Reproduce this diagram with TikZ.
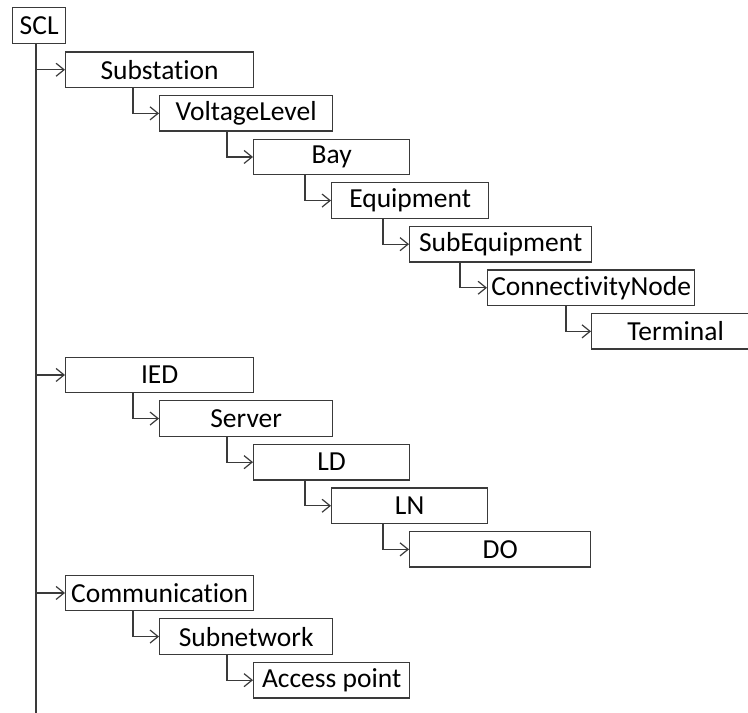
\documentclass[tikz,border=0pt]{standalone}
\usepackage{fontspec}
\setmainfont{Carlito}[Ligatures={NoCommon}]
\usetikzlibrary{arrows.meta}
\definecolor{edge}{HTML}{3A3A3A}
\tikzset{
  box/.style={draw=edge, line width=1.3pt, inner sep=0pt, minimum height=35.5pt,
    font=\fontsize{27.5}{30}\selectfont, text=black, anchor=west},
  link/.style={draw=edge, line width=1.3pt,
    -{Straight Barb[length=8pt,width=13pt,line width=1.2pt]}},
  trunk/.style={draw=edge, line width=1.3pt}
}
\begin{document}
\begin{tikzpicture}[x=1pt,y=-1pt]
\clip (0,0) rectangle (748,713);
\fill[white] (0,0) rectangle (748,713);

% root
\node[box, minimum width=53pt] (scl) at (12,25.5) {SCL};

% rows: top = 52 + 43.6 i, centre = top + 17.75
\node[box, minimum width=188pt] (sub)  at (65,69.75)   {Substation};
\node[box, minimum width=173pt] (vl)   at (159,113.35) {VoltageLevel};
\node[box, minimum width=156pt] (bay)  at (253,156.95) {Bay};
\node[box, minimum width=157pt] (eq)   at (331,200.55) {Equipment};
\node[box, minimum width=182pt] (seq)  at (409,244.15) {SubEquipment};
\node[box, minimum width=207pt] (cn)   at (487,287.75) {ConnectivityNode};
\node[box, minimum width=168pt] (term) at (591,331.35) {Terminal};

\node[box, minimum width=188pt] (ied)  at (65,374.95)  {IED};
\node[box, minimum width=173pt] (srv)  at (159,418.55) {Server};
\node[box, minimum width=156pt] (ld)   at (253,462.15) {LD};
\node[box, minimum width=156pt] (ln)   at (331,505.75) {LN};
\node[box, minimum width=181pt] (do)   at (409,549.35) {DO};

\node[box, minimum width=188pt] (com)  at (65,592.95)  {Communication};
\node[box, minimum width=173pt] (snet) at (159,636.55) {Subnetwork};
\node[box, minimum width=156pt] (ap)   at (253,680.15) {Access point};

% main trunk from the root down to the lower edge
\coordinate (tb) at (36,713);
\draw[trunk] (scl.south -| tb) -- (tb);
\draw[link] (tb |- sub.west) -- (sub.west);
\draw[link] (tb |- ied.west) -- (ied.west);
\draw[link] (tb |- com.west) -- (com.west);

% elbow connectors from parent to child
\draw[link] ([xshift=68pt]sub.south west)  |- (vl.west);
\draw[link] ([xshift=68pt]vl.south west)   |- (bay.west);
\draw[link] ([xshift=52pt]bay.south west)  |- (eq.west);
\draw[link] ([xshift=52pt]eq.south west)   |- (seq.west);
\draw[link] ([xshift=51pt]seq.south west)  |- (cn.west);
\draw[link] ([xshift=79pt]cn.south west)   |- (term.west);

\draw[link] ([xshift=68pt]ied.south west)  |- (srv.west);
\draw[link] ([xshift=68pt]srv.south west)  |- (ld.west);
\draw[link] ([xshift=52pt]ld.south west)   |- (ln.west);
\draw[link] ([xshift=52pt]ln.south west)   |- (do.west);

\draw[link] ([xshift=68pt]com.south west)  |- (snet.west);
\draw[link] ([xshift=68pt]snet.south west) |- (ap.west);
\end{tikzpicture}
\end{document}
